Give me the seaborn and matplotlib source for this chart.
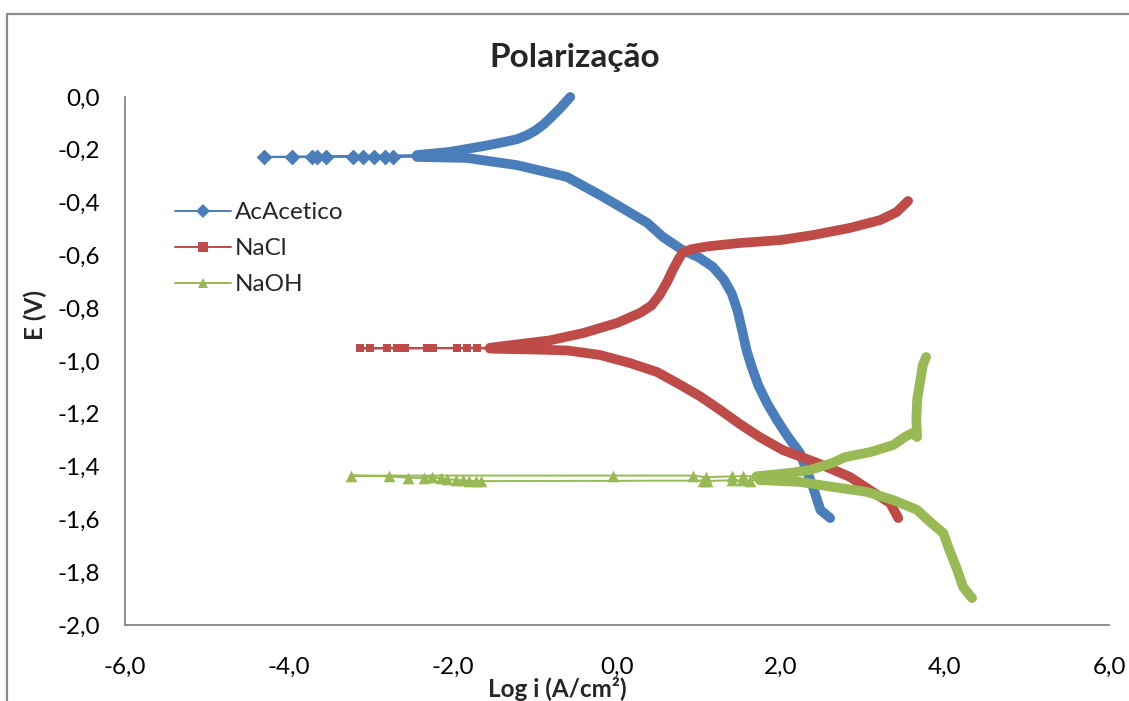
import matplotlib
matplotlib.use("Agg")
import matplotlib.pyplot as plt
from matplotlib.lines import Line2D
from matplotlib.ticker import FuncFormatter
import pandas as pd
import seaborn as sns

# ---------------- data: log i (A/cm2) vs E (V) ----------------
# Acetic acid: cathodic branch (from -1.6 V up to Ecorr)
acetico_cat_x = [2.60, 2.48, 2.39, 2.23, 2.08, 1.95, 1.83, 1.72, 1.64, 1.58, 1.53, 1.47,
                 1.40, 1.30, 1.17, 1.00, 0.80, 0.56, 0.37, 0.00, -0.21, -0.61, -1.22,
                 -1.83, -2.44]
acetico_cat_y = [-1.595, -1.564, -1.477, -1.348, -1.285, -1.223, -1.160, -1.090, -1.020,
                 -0.960, -0.890, -0.810, -0.745, -0.690, -0.644, -0.608, -0.580, -0.530,
                 -0.477, -0.409, -0.371, -0.303, -0.258, -0.231, -0.227]
# Acetic acid: isolated points around Ecorr
acetico_ecorr_x = [-2.73, -2.83, -2.96, -3.10, -3.22, -3.55, -3.66, -3.72, -3.96, -4.30]
acetico_ecorr_y = [-0.227] * 10
# Acetic acid: anodic branch
acetico_an_x = [-2.44, -2.04, -1.63, -1.40, -1.22, -1.10, -1.00, -0.90, -0.82, -0.70, -0.57]
acetico_an_y = [-0.220, -0.208, -0.186, -0.172, -0.160, -0.145, -0.128, -0.105, -0.082,
                -0.045, 0.000]

# NaCl
nacl_cat_x = [3.43, 3.33, 3.12, 2.84, 2.44, 2.02, 1.74, 1.50, 1.26, 1.01, 0.77, 0.49, 0.16,
              -0.21, -0.61, -0.94, -1.43, -1.55]
nacl_cat_y = [-1.595, -1.538, -1.496, -1.439, -1.386, -1.337, -1.288, -1.239, -1.186,
              -1.133, -1.090, -1.042, -1.008, -0.977, -0.960, -0.957, -0.954, -0.953]
nacl_ecorr_x = [-1.71, -1.83, -1.95, -2.24, -2.32, -2.59, -2.68, -2.80, -3.01, -3.13]
nacl_ecorr_y = [-0.952] * 10
nacl_an_x = [-1.55, -1.43, -0.82, -0.41, 0.00, 0.28, 0.42, 0.52, 0.61, 0.68, 0.75, 0.80,
             0.90, 1.10, 1.50, 1.99, 2.39, 2.84, 3.21, 3.41, 3.55]
nacl_an_y = [-0.950, -0.945, -0.922, -0.894, -0.856, -0.818, -0.790, -0.750, -0.701,
             -0.655, -0.615, -0.590, -0.577, -0.566, -0.553, -0.542, -0.523, -0.496,
             -0.466, -0.436, -0.394]

# NaOH
naoh_cat_x = [4.33, 4.22, 4.15, 4.04, 3.98, 3.82, 3.66, 3.37, 3.05, 2.63, 2.23, 1.74]
naoh_cat_y = [-1.898, -1.856, -1.792, -1.705, -1.652, -1.610, -1.564, -1.527, -1.496,
              -1.477, -1.458, -1.451]
naoh_ecorr_x = [1.62, 1.52, 1.40, 1.10, 1.05, -1.66, -1.72, -1.80, -1.88, -1.96, -2.07,
                -2.15, -2.26, -2.35, -2.55, -2.78, -3.25, -0.05, 0.93, 1.08, 1.40, 1.54]
naoh_ecorr_y = [-1.453, -1.452, -1.452, -1.454, -1.453, -1.455, -1.455, -1.454, -1.452,
                -1.450, -1.448, -1.444, -1.441, -1.443, -1.442, -1.437, -1.434, -1.434,
                -1.434, -1.440, -1.437, -1.436]
naoh_an_x = [1.70, 2.11, 2.35, 2.63, 2.78, 3.09, 3.37, 3.51, 3.60, 3.66, 3.65, 3.66,
             3.70, 3.73, 3.77]
naoh_an_y = [-1.437, -1.424, -1.413, -1.386, -1.364, -1.345, -1.318, -1.288, -1.273,
             -1.288, -1.223, -1.148, -1.072, -1.015, -0.985]

series_names = ["AcAcetico", "NaCl", "NaOH"]
series_colors = ["#4A7EBB", "#BE4B48", "#98B954"]
series_markers = ["D", "s", "^"]
marker_areas = [65, 40, 70]

x_ticks = [-6, -4, -2, 0, 2, 4, 6]
y_ticks = [0.0, -0.2, -0.4, -0.6, -0.8, -1.0, -1.2, -1.4, -1.6, -1.8, -2.0]

# ---------------- styling ----------------
sns.set_theme(style="white")
plt.rcParams["font.family"] = ["Lato", "DejaVu Sans"]

W, H = 1129, 701
fig = plt.figure(figsize=(W / 100, H / 100), dpi=100)
fig.patch.set_facecolor("white")

# chart area border (top and left edges visible)
frame_col = "#8C8C8C"
fig.add_artist(Line2D([7 / W, 1.0], [1 - 14 / H, 1 - 14 / H], color=frame_col, lw=1.6,
                      transform=fig.transFigure))
fig.add_artist(Line2D([7 / W, 7 / W], [0.0, 1 - 14 / H], color=frame_col, lw=1.6,
                      transform=fig.transFigure))

ax = fig.add_axes([125 / W, 76 / H, (1109 - 125) / W, (625 - 97) / H])
ax.set_facecolor("white")

groups = [
    (acetico_cat_x, acetico_cat_y, acetico_ecorr_x, acetico_ecorr_y, acetico_an_x, acetico_an_y),
    (nacl_cat_x, nacl_cat_y, nacl_ecorr_x, nacl_ecorr_y, nacl_an_x, nacl_an_y),
    (naoh_cat_x, naoh_cat_y, naoh_ecorr_x, naoh_ecorr_y, naoh_an_x, naoh_an_y),
]

for name, col, mk, ms, (cx, cy, ex, ey, axx, ayy) in zip(series_names, series_colors,
                                                        series_markers, marker_areas,
                                                        groups):
    # thin connecting line through the full scan sequence
    full = pd.DataFrame({"x": cx + ex + axx, "y": cy + ey + ayy})
    sns.lineplot(data=full, x="x", y="y", sort=False, estimator=None, color=col,
                 lw=1.4, ax=ax, clip_on=False)
    # densely sampled branches render as a thick band of overlapping markers
    for bx, by in [(cx, cy), (axx, ayy)]:
        br = pd.DataFrame({"x": bx, "y": by})
        sns.lineplot(data=br, x="x", y="y", sort=False, estimator=None, color=col,
                     lw=7.0, ax=ax, clip_on=False, solid_capstyle="round",
                     solid_joinstyle="round")
    # isolated points near the corrosion potential
    pts = pd.DataFrame({"x": ex, "y": ey})
    sns.scatterplot(data=pts, x="x", y="y", marker=mk, color=col, s=ms, linewidth=0,
                    ax=ax, clip_on=False, zorder=3)

ax.set_xlim(-6, 6)
ax.set_ylim(-2, 0)
ax.set_xticks(x_ticks)
ax.set_yticks(y_ticks)
fmt = FuncFormatter(lambda v, p: f"{v:.1f}".replace(".", ",").replace("\u2212", "-"))
ax.xaxis.set_major_formatter(fmt)
ax.yaxis.set_major_formatter(fmt)

axis_col = "#868686"
for s in ["top", "right"]:
    ax.spines[s].set_visible(False)
for s in ["left", "bottom"]:
    ax.spines[s].set_color(axis_col)
    ax.spines[s].set_linewidth(1.3)
ax.tick_params(axis="both", direction="out", length=6, width=1.3, color=axis_col,
               labelsize=17.5, labelcolor="black")
ax.tick_params(axis="y", pad=12)
ax.tick_params(axis="x", pad=17)
ax.set_xlabel("")
ax.set_ylabel("")
ax.grid(False)

fig.text(575 / W, 1 - 58 / H, "Polarização", ha="center", va="center",
         fontsize=24, fontweight="bold")
fig.text(557 / W, 1 - 689 / H, "Log i (A/cm²)", ha="center", va="center",
         fontsize=17.5, fontweight="bold")
fig.text(35 / W, 1 - 315 / H, "E (V)", ha="center", va="center", rotation=90,
         fontsize=17.5, fontweight="bold")

handles = [Line2D([0], [0], color=c, lw=1.4, marker=m, markersize=7.5, markeredgewidth=0)
           for c, m in zip(series_colors, series_markers)]
ax.legend(handles, series_names, loc="upper left",
          bbox_to_anchor=(175 / W, 1 - 202 / H), bbox_transform=fig.transFigure,
          frameon=False, fontsize=17.5, handlelength=2.3, handletextpad=0.15,
          labelspacing=0.62, borderpad=0, borderaxespad=0)

fig.savefig("out.png", dpi=100, facecolor="white")
